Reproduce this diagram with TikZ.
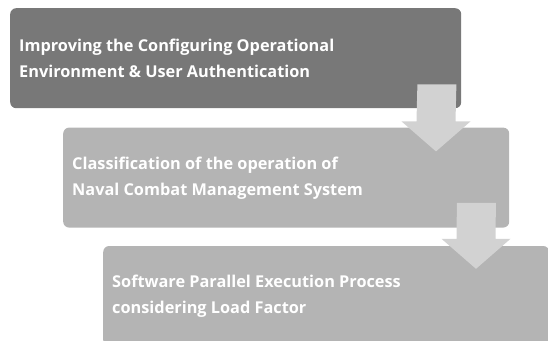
\documentclass[tikz,border=0pt]{standalone}
\usepackage{fontspec}
\setmainfont{Open Sans}
\usetikzlibrary{positioning, calc}

\definecolor{stepdark}{HTML}{787878}
\definecolor{steplight}{HTML}{B4B4B4}
\definecolor{arrowgray}{HTML}{D2D2D2}

% block arrow from the top of its shaft (#1) down to its tip (#2)
\newcommand{\blockarrow}[2]{%
  \fill[arrowgray] ($(#1)+(-19.5,0)$) -- ($(#1)+(19.5,0)$) -- ($(#2)+(19.5,30)$)
    -- ($(#2)+(34.5,30)$) -- (#2) -- ($(#2)+(-34.5,30)$) -- ($(#2)+(-19.5,30)$) -- cycle;}

\begin{document}
\begin{tikzpicture}[x=1pt,y=1pt,stepbox/.style={rectangle,rounded corners=6pt,anchor=north west,minimum height=100pt},steptext/.style={text=white,font=\fontsize{16.3}{26}\selectfont\bfseries,align=left,anchor=base west,inner sep=0pt}]
  \useasboundingbox (0,0) rectangle (548,-340);
  \clip (0,0) rectangle (548,-340);
  \node[stepbox,fill=stepdark,minimum width=451pt] (box1) at (10,-8) {};
  \node[stepbox,fill=steplight,minimum width=446pt,below=19pt of box1.south west,anchor=north west,xshift=53pt] (box2) {};
  \node[stepbox,fill=steplight,minimum width=446pt,below=18pt of box2.south west,anchor=north west,xshift=40pt] (box3) {};
  % base anchor sits on the last line
  \node[steptext] (text1) at ($(box1.north west)+(9,-69)$) {Improving the Configuring Operational\\Environment \& User Authentication};
  \node[steptext] (text2) at ($(box2.north west)+(9,-68)$) {Classification of the operation of\\Naval Combat Management System};
  \node[steptext] (text3) at ($(box3.north west)+(9,-68)$) {Software Parallel Execution Process\\considering Load Factor};
  % arrows between the steps
  \coordinate (a1top) at ($(box1.south east)+(-24.5,24)$);
  \coordinate (a1tip) at ($(box2.north west)+(373,-24)$);
  \coordinate (a2top) at ($(box2.south east)+(-33,25)$);
  \coordinate (a2tip) at ($(box3.north west)+(373,-23)$);
  \blockarrow{a1top}{a1tip}
  \blockarrow{a2top}{a2tip}
\end{tikzpicture}
\end{document}
